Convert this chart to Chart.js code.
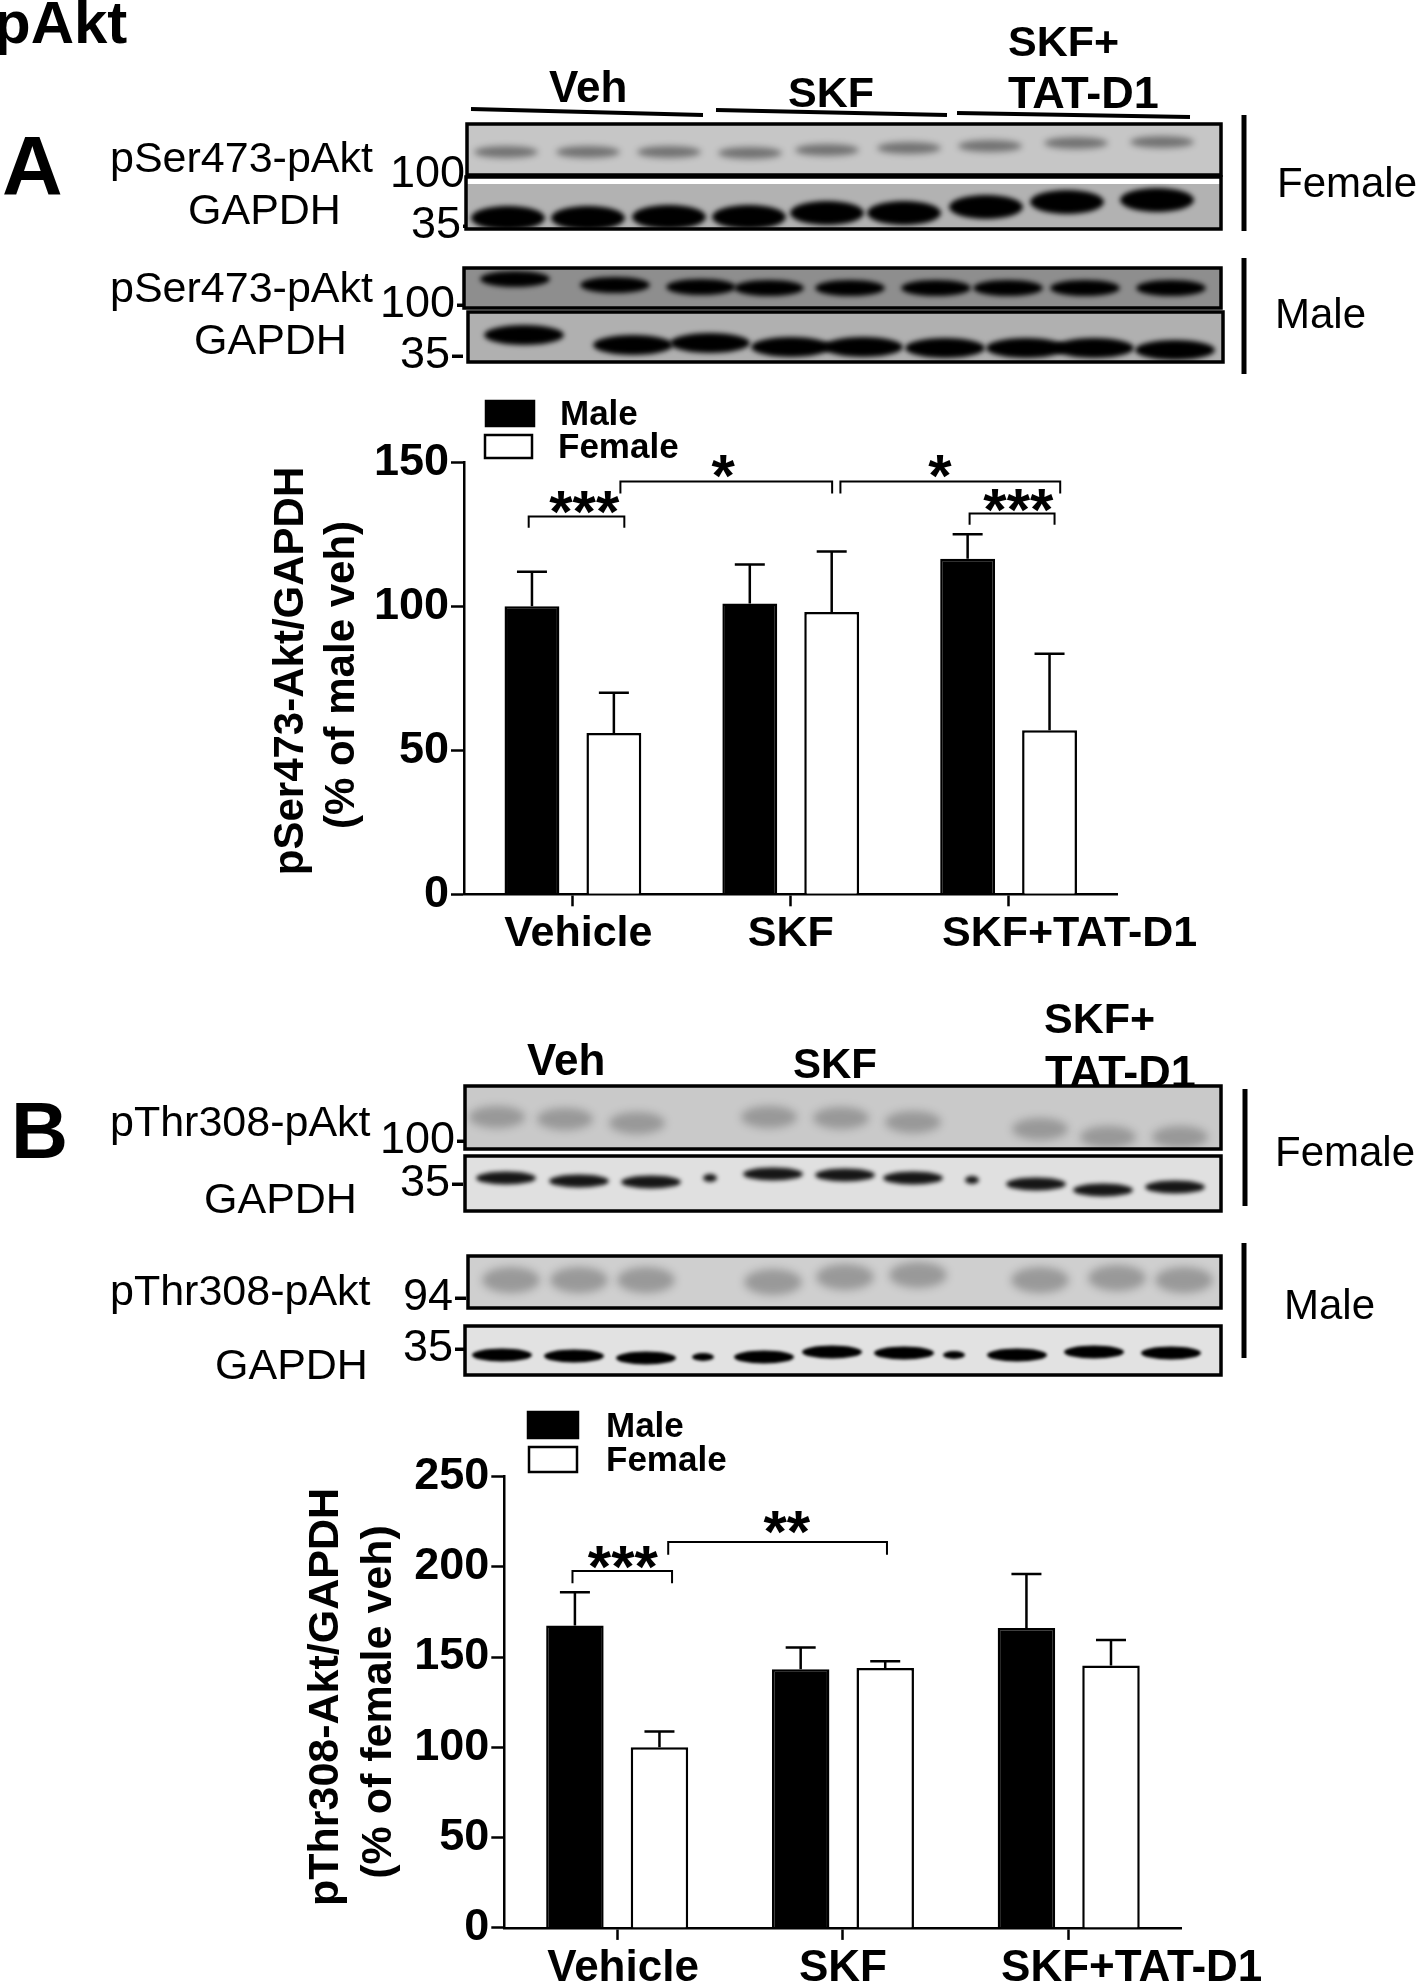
<!DOCTYPE html>
<html>
<head>
<meta charset="utf-8">
<title>pAkt</title>
<script src="https://cdn.jsdelivr.net/npm/chart.js@4"></script>
<style>
  html, body { margin: 0; background: #fff; }
  #page { position: relative; width: 1418px; height: 1984px; overflow: hidden; }
  canvas { position: absolute; left: 0; }
</style>
</head>
<body>
<div id="page">
  <canvas id="blots" width="1418" height="1984" style="top:0"></canvas>
  <canvas id="chartA" width="1418" height="610" style="top:390px"></canvas>
  <canvas id="chartB" width="1418" height="604" style="top:1380px"></canvas>
</div>
<script>
const FONT = '"Liberation Sans", Arial, sans-serif';

const categories = ['Vehicle', 'SKF', 'SKF+TAT-D1'];
const seriesNames = ['Male', 'Female'];

// panel A
const maleA = [100, 101, 116.5];
const femaleA = [56, 98, 57];
const maleTopA = [112, 114.5, 125];
const femaleTopA = [70, 119, 83.5];
const titleA = ['pSer473-Akt/GAPDH', '(% of male veh)'];
// from category, to category, top value, foot value
const bracketsA = [
  [-0.203, 0.236, 131.2, 127.3],
  [0.218, 1.19, 143.3, 139.2],
  [1.228, 2.237, 143.3, 139.2],
  [1.821, 2.211, 132.2, 128.3]
];
const starsA = [['***', 0.052, 135.9], ['*', 0.69, 148.4], ['*', 1.685, 148.4], ['***', 2.045, 136.5]];

// panel B
const maleB = [167.4, 143.2, 166];
const femaleB = [100, 143.9, 145.3];
const maleTopB = [185.8, 155.2, 196];
const femaleTopB = [108.8, 147.6, 159.4];
const titleB = ['pThr308-Akt/GAPDH', '(% of female veh)'];
const bracketsB = [
  [-0.198, 0.243, 197.6, 190.9],
  [0.226, 1.195, 213.7, 206.6]
];
const starsB = [['***', 0.025, 204.9], ['**', 0.751, 224.4]];

// blot panels: the gel pictures are only painted, they carry no chart values
const panels = [
  { box: [467, 124, 754, 51], bg: '#c6c6c6', alpha: 0.42, bw: 64, bh: 12, blur: 3,
    lanes: [[506,152],[588,152],[669,152],[750,153],[827,150],[909,148],[990,146],[1076,143],[1162,142]] },
  { box: [466, 177, 755, 52], bg: '#b2b2b2', alpha: 1, bw: 74, bh: 24, blur: 2.5, strip: 7,
    lanes: [[508,218],[588,218],[669,217],[749,217],[827,213],[904,213],[986,207],[1067,202],[1157,200]] },
  { box: [464, 268, 757, 40], bg: '#8e8e8e', alpha: 1, bw: 70, bh: 16, blur: 2.5,
    lanes: [[515,279],[615,285],[701,287],[769,288],[850,288],[936,288],[1008,288],[1085,288],[1171,288]] },
  { box: [468, 312, 755, 50], bg: '#b0b0b0', alpha: 1, bw: 80, bh: 20, blur: 2.5,
    lanes: [[524,335],[633,345],[710,343],[791,347],[863,347],[945,348],[1026,348],[1094,348],[1175,350]] },
  { box: [465, 1086, 756, 63], bg: '#c9c9c9', alpha: 0.24, bw: 56, bh: 22, blur: 4,
    lanes: [[497,1117],[565,1119],[637,1123],[769,1117],[841,1118],[913,1122],[1040,1129],[1108,1137],[1180,1137]] },
  { box: [465, 1156, 756, 55], bg: '#e0e0e0', alpha: 0.9, bw: 60, bh: 13, blur: 2,
    lanes: [[506,1178],[579,1181],[651,1182],[710,1178,14],[773,1174],[845,1175],[913,1178],[972,1180,14],[1036,1184],[1103,1190],[1175,1187]] },
  { box: [468, 1256, 753, 52], bg: '#cfcfcf', alpha: 0.26, bw: 58, bh: 26, blur: 4,
    lanes: [[511,1280],[579,1280],[646,1280],[773,1282],[845,1277],[918,1275],[1040,1280],[1117,1278],[1184,1280]] },
  { box: [465, 1326, 756, 49], bg: '#e2e2e2', alpha: 1, bw: 60, bh: 13, blur: 1.5,
    lanes: [[502,1355],[574,1356],[646,1358],[703,1357,22],[764,1357],[832,1352],[904,1353],[954,1355,22],[1017,1355],[1094,1352],[1171,1353]] }
];

// text, left, baseline, size, bold
const pageLabels = [
  ['pAkt', -6, 43, 60, true],
  ['A', 2, 195, 84, true],
  ['Veh', 549, 102, 44, true],
  ['SKF', 788, 107, 43, true],
  ['SKF+', 1008, 56, 43, true],
  ['TAT-D1', 1008, 108, 45, true],
  ['pSer473-pAkt', 110, 172, 43, false],
  ['GAPDH', 188, 224, 43, false],
  ['100-', 390, 187, 45, false],
  ['35-', 411, 238, 45, false],
  ['Female', 1277, 197, 42, false],
  ['pSer473-pAkt', 110, 302, 43, false],
  ['GAPDH', 194, 354, 43, false],
  ['100-', 380, 317, 45, false],
  ['35-', 400, 368, 45, false],
  ['Male', 1275, 328, 42, false],
  ['B', 11, 1158, 79, true],
  ['Veh', 527, 1075, 44, true],
  ['SKF', 793, 1078, 42, true],
  ['SKF+', 1044, 1033, 43, true],
  ['pThr308-pAkt', 110, 1136, 43, false],
  ['GAPDH', 204, 1213, 43, false],
  ['100-', 380, 1153, 45, false],
  ['35-', 400, 1196, 45, false],
  ['Female', 1275, 1166, 42, false],
  ['pThr308-pAkt', 110, 1305, 43, false],
  ['GAPDH', 215, 1379, 43, false],
  ['94-', 403, 1310, 45, false],
  ['35-', 403, 1361, 45, false],
  ['Male', 1284, 1319, 42, false]
];

function drawPanel(ctx, p) {
  const [x, y, w, h] = p.box;
  ctx.save();
  ctx.beginPath();
  ctx.rect(x, y, w, h);
  ctx.clip();
  ctx.fillStyle = p.bg;
  ctx.fillRect(x, y, w, h);
  if (p.strip) {
    ctx.fillStyle = '#fff';
    ctx.fillRect(x, y, w, p.strip);
  }
  ctx.filter = 'blur(' + p.blur + 'px)';
  ctx.fillStyle = 'rgba(0,0,0,' + p.alpha + ')';
  p.lanes.forEach(l => {
    const bw = l[2] || p.bw;
    const bh = l[2] ? p.bh * 0.6 : p.bh;
    ctx.beginPath();
    ctx.ellipse(l[0], l[1], bw / 2, bh / 2, 0, 0, Math.PI * 2);
    ctx.fill();
  });
  ctx.restore();
  ctx.strokeStyle = '#000';
  ctx.lineWidth = 3.5;
  ctx.strokeRect(x, y, w, h);
}

function drawBlots() {
  const ctx = document.getElementById('blots').getContext('2d');
  ctx.fillStyle = '#000';
  pageLabels.forEach(t => {
    ctx.font = (t[4] ? 'bold ' : '') + t[3] + 'px ' + FONT;
    ctx.fillText(t[0], t[1], t[2]);
  });
  panels.forEach(p => drawPanel(ctx, p));

  // this label is cut by the top edge of its panel
  ctx.fillStyle = '#000';
  ctx.font = 'bold 45px ' + FONT;
  ctx.fillText('TAT-D1', 1045, 1087);

  // condition underlines and the Female / Male bars
  ctx.strokeStyle = '#000';
  ctx.lineWidth = 4;
  [[471,109,703,115],[716,110,947,115],[957,113,1190,117]].forEach(l => {
    ctx.beginPath();
    ctx.moveTo(l[0], l[1]);
    ctx.lineTo(l[2], l[3]);
    ctx.stroke();
  });
  ctx.lineWidth = 5;
  [[1244,115,231],[1244,258,374],[1245,1089,1206],[1244,1243,1358]].forEach(l => {
    ctx.beginPath();
    ctx.moveTo(l[0], l[1]);
    ctx.lineTo(l[0], l[2]);
    ctx.stroke();
  });
}

const figurePlugin = {
  id: 'figure',
  afterDatasetsDraw(chart, args, o) {
    const ctx = chart.ctx;
    const x = chart.scales.x;
    const y = chart.scales.y;
    ctx.save();
    ctx.strokeStyle = '#000';
    ctx.fillStyle = '#000';
    ctx.lineCap = 'butt';

    // error bars, upper arm only
    ctx.lineWidth = 2.5;
    o.tops.forEach((tops, ds) => {
      chart.getDatasetMeta(ds).data.forEach((bar, i) => {
        const py = y.getPixelForValue(tops[i]);
        ctx.beginPath();
        ctx.moveTo(bar.x, bar.y);
        ctx.lineTo(bar.x, py);
        ctx.moveTo(bar.x - 15, py);
        ctx.lineTo(bar.x + 15, py);
        ctx.stroke();
      });
    });

    // significance brackets
    ctx.lineWidth = 2;
    o.brackets.forEach(b => {
      ctx.beginPath();
      ctx.moveTo(x.getPixelForValue(b[0]), y.getPixelForValue(b[3]));
      ctx.lineTo(x.getPixelForValue(b[0]), y.getPixelForValue(b[2]));
      ctx.lineTo(x.getPixelForValue(b[1]), y.getPixelForValue(b[2]));
      ctx.lineTo(x.getPixelForValue(b[1]), y.getPixelForValue(b[3]));
      ctx.stroke();
    });
    ctx.textAlign = 'center';
    ctx.textBaseline = 'alphabetic';
    ctx.font = 'bold 60px ' + FONT;
    o.stars.forEach(s => {
      // the asterisk sits high in its line, so drop the baseline by its centre height
      ctx.fillText(s[0], x.getPixelForValue(s[1]), y.getPixelForValue(s[2]) + 29);
    });

    // category labels: the last one is set well right of its tick in the figure
    ctx.font = 'bold ' + o.labelSize + 'px ' + FONT;
    categories.forEach((c, i) => {
      ctx.fillText(c, x.getPixelForValue(i + o.labelShift[i]), y.bottom + o.labelDrop);
    });

    // axis title, two rotated lines placed on their own
    ctx.font = 'bold ' + o.axisTitle.size + 'px ' + FONT;
    o.axisTitle.text.forEach((t, i) => {
      ctx.save();
      ctx.translate(o.axisTitle.x[i], o.axisTitle.y[i]);
      ctx.rotate(-Math.PI / 2);
      ctx.fillText(t, 0, 0);
      ctx.restore();
    });

    // legend
    ctx.textAlign = 'left';
    ctx.font = 'bold ' + o.legend.size + 'px ' + FONT;
    chart.data.datasets.forEach((d, i) => {
      const r = o.legend.boxes[i];
      ctx.fillStyle = d.backgroundColor;
      ctx.fillRect(r[0], r[1], r[2], r[3]);
      ctx.lineWidth = 2.5;
      ctx.strokeRect(r[0], r[1], r[2], r[3]);
      ctx.fillStyle = '#000';
      ctx.fillText(d.label, o.legend.text[i][0], o.legend.text[i][1]);
    });
    ctx.restore();
  }
};

function makeChart(id, male, female, opts) {
  return new Chart(document.getElementById(id), {
    type: 'bar',
    data: {
      labels: categories,
      datasets: [
        { label: seriesNames[0], data: male, backgroundColor: '#000', borderColor: '#000', borderWidth: 2.5 },
        { label: seriesNames[1], data: female, backgroundColor: '#fff', borderColor: '#000', borderWidth: 2.5 }
      ]
    },
    plugins: [figurePlugin],
    options: {
      responsive: false,
      animation: false,
      events: [],
      categoryPercentage: opts.categoryPercentage,
      barPercentage: opts.barPercentage,
      layout: { padding: opts.padding },
      plugins: {
        legend: { display: false },
        tooltip: { enabled: false },
        title: { display: false },
        figure: opts.figure
      },
      scales: {
        x: {
          grid: { offset: false, drawOnChartArea: false, tickLength: 12, tickWidth: 2.5, tickColor: '#000' },
          border: { color: '#000', width: 2.5 },
          ticks: { display: false },
          afterFit: s => { s.height = opts.xHeight; s.paddingLeft = 0; s.paddingRight = 0; }
        },
        y: {
          min: 0,
          max: opts.yMax,
          grid: { drawOnChartArea: false, tickLength: 13, tickWidth: 2.5, tickColor: '#000' },
          border: { color: '#000', width: 2.5 },
          ticks: { stepSize: opts.yStep, color: '#000', padding: 2, font: { family: FONT, size: opts.tickSize, weight: 'bold' } },
          afterFit: s => { s.width = opts.yWidth; s.paddingTop = 0; s.paddingBottom = 0; }
        }
      }
    }
  });
}

drawBlots();

makeChart('chartA', maleA, femaleA, {
  yMax: 150, yStep: 50, tickSize: 45,
  padding: { left: 262, right: 300.5, top: 72.3, bottom: 0 },
  yWidth: 202, xHeight: 105.7,
  categoryPercentage: 0.752, barPercentage: 0.67,
  figure: {
    tops: [maleTopA, femaleTopA], brackets: bracketsA, stars: starsA,
    labelSize: 43, labelShift: [0.025, 0, 0.28], labelDrop: 51.7,
    axisTitle: { text: titleA, size: 42, x: [303, 354], y: [281, 285] },
    legend: { size: 35, boxes: [[486, 11, 48, 25], [485, 45, 47, 23]], text: [[560, 34.6], [558, 67.7]] }
  }
});

makeChart('chartB', maleB, femaleB, {
  yMax: 250, yStep: 50, tickSize: 45,
  padding: { left: 280, right: 236.4, top: 96.4, bottom: 0 },
  yWidth: 224.3, xHeight: 56.1,
  categoryPercentage: 0.749, barPercentage: 0.68,
  figure: {
    tops: [maleTopB, femaleTopB], brackets: bracketsB, stars: starsB,
    labelSize: 44, labelShift: [0.026, 0, 0.279], labelDrop: 53,
    axisTitle: { text: titleB, size: 43, x: [338, 391], y: [317, 322] },
    legend: { size: 35, boxes: [[528, 32, 50, 26], [529, 67, 48, 25]], text: [[606, 57.3], [606, 91.4]] }
  }
});
</script>
</body>
</html>
